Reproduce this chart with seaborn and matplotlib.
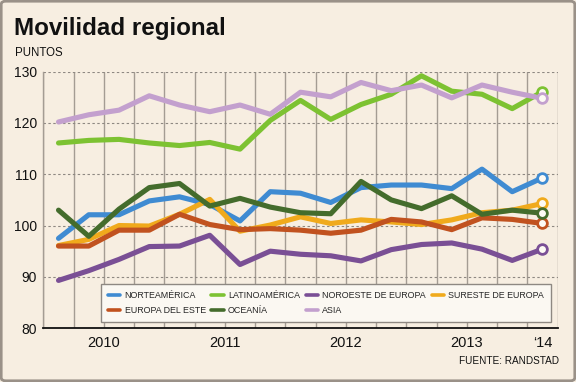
import numpy as np
import pandas as pd
import matplotlib
matplotlib.use("Agg")
import matplotlib.pyplot as plt
from matplotlib.lines import Line2D
from matplotlib.patches import FancyBboxPatch
import matplotlib.transforms as mtransforms
import seaborn as sns

# ---------------- data ----------------
quarters = ["2010T1", "2010T2", "2010T3", "2010T4",
            "2011T1", "2011T2", "2011T3", "2011T4",
            "2012T1", "2012T2", "2012T3", "2012T4",
            "2013T1", "2013T2", "2013T3", "2013T4",
            "2014T1"]
regions = ["NORTEAMÉRICA", "LATINOAMÉRICA", "NOROESTE DE EUROPA",
           "SURESTE DE EUROPA", "EUROPA DEL ESTE", "OCEANÍA", "ASIA"]
norteamerica = [97.5, 102.1, 102.1, 104.8, 105.6, 104.1, 100.9, 106.6, 106.3,
                104.5, 107.4, 107.9, 107.9, 107.2, 111.0, 106.6, 109.3]
latinoamerica = [116.1, 116.6, 116.8, 116.1, 115.6, 116.2, 114.9, 120.5, 124.4,
                 120.7, 123.6, 125.6, 129.2, 126.2, 125.6, 122.8, 126.1]
noroeste = [89.3, 91.2, 93.4, 95.9, 96.0, 98.1, 92.4, 95.0, 94.4,
            94.1, 93.1, 95.3, 96.3, 96.6, 95.4, 93.2, 95.4]
sureste = [96.1, 97.3, 100.0, 99.9, 102.2, 105.1, 98.9, 100.1, 101.7,
           100.4, 101.1, 100.7, 100.2, 101.1, 102.5, 103.0, 104.3]
europa_este = [96.0, 96.0, 99.1, 99.1, 102.2, 100.2, 99.2, 99.4, 99.1,
               98.5, 99.1, 101.2, 100.7, 99.2, 101.5, 101.2, 100.4]
oceania = [103.0, 97.9, 103.2, 107.4, 108.2, 103.8, 105.3, 103.6, 102.5,
           102.3, 108.6, 105.0, 103.3, 105.8, 102.2, 103.0, 102.4]
asia = [120.2, 121.6, 122.5, 125.3, 123.5, 122.2, 123.5, 121.7, 126.0,
        125.1, 127.9, 126.3, 127.4, 124.9, 127.4, 126.0, 124.8]
year_labels = ["2010", "2011", "2012", "2013", "\u201814"]
y_ticks = [80, 90, 100, 110, 120, 130]

series = [norteamerica, latinoamerica, noroeste, sureste, europa_este, oceania, asia]
colors = ["#3f8bd2", "#7dc232", "#7a4f95", "#f0aa1c", "#c1521f", "#446c2c", "#c3a0ce"]
palette = dict(zip(regions, colors))

rows = []
for reg, vals in zip(regions, series):
    for i, (q, v) in enumerate(zip(quarters, vals)):
        rows.append({"region": reg, "idx": i, "quarter": q, "value": v})
df = pd.DataFrame(rows)

# ---------------- style ----------------
BG = "#f7eee1"
sns.set_theme(style="white")
plt.rcParams["font.family"] = ["Liberation Sans", "DejaVu Sans"]
plt.rcParams["figure.facecolor"] = BG
plt.rcParams["axes.facecolor"] = BG

fig = plt.figure(figsize=(5.76, 3.82), dpi=100)
ax = fig.add_axes([43.4 / 576, 1 - 328.1 / 382, (557.6 - 43.4) / 576, (328.1 - 71.7) / 382])
ax.set_facecolor(BG)

sns.lineplot(data=df, x="idx", y="value", hue="region", hue_order=regions,
             palette=palette, linewidth=3.7, legend=False, ax=ax,
             solid_capstyle="round", solid_joinstyle="round", zorder=3)

# end markers (last quarter)
last = df[df["idx"] == len(quarters) - 1]
for reg in regions:
    r = last[last["region"] == reg]
    ax.plot(r["idx"], r["value"], marker="o", markersize=7, markeredgewidth=2.0,
            markeredgecolor=palette[reg], markerfacecolor="#fdfaf4",
            linestyle="none", zorder=4, clip_on=False)

n = len(quarters)
ax.set_xlim(-0.5, n - 0.5)
ax.set_ylim(80, 130)

# grid
GRID = "#a49c93"
ax.set_yticks(y_ticks)
ax.set_yticklabels([str(t) for t in y_ticks])
ax.yaxis.grid(True, linestyle=(0, (2.2, 2.2)), color="#8e8882", linewidth=0.8)
ax.set_xticks(np.arange(-0.5, n, 1.0), minor=True)
ax.set_xticks([3.5, 7.5, 11.5, 15.5])
ax.set_xticklabels([""] * 4)
ax.xaxis.grid(True, which="both", color=GRID, linewidth=1.0, linestyle="-")
ax.set_axisbelow(True)
ax.tick_params(axis="x", which="major", length=14, width=1.0, color=GRID, direction="out")
ax.tick_params(axis="x", which="minor", length=0)
ax.tick_params(axis="y", which="major", length=3, width=0.8, color="#8e8882",
               labelsize=10, pad=1.5, labelcolor="#111111")
ax.set_xlabel("")
ax.set_ylabel("")

for s in ["top", "right"]:
    ax.spines[s].set_visible(False)
ax.spines["left"].set_color(GRID)
ax.spines["left"].set_linewidth(1.0)
ax.spines["bottom"].set_color("#111111")
ax.spines["bottom"].set_linewidth(1.3)
ax.spines["bottom"].set_zorder(5)

# year labels
trans = mtransforms.blended_transform_factory(ax.transData, ax.transAxes)
year_pos = [1.5, 5.5, 9.5, 13.5, 16.0]
for xp, lab in zip(year_pos, year_labels):
    ax.text(xp, -0.057, lab, transform=trans, ha="center", va="center",
            fontsize=10.5, color="#111111")

# legend
handles = [Line2D([], [], color=palette[r], linewidth=2.6, solid_capstyle="round") for r in regions]
order = [0, 4, 1, 5, 2, 6, 3]
leg = ax.legend([handles[i] for i in order], [regions[i] for i in order],
                ncol=4, loc="lower left", bbox_to_anchor=(0.112, 0.024, 0.875, 0.144),
                mode="expand", frameon=True, fancybox=False, framealpha=1,
                facecolor="#fbf8f2", edgecolor="#8e8882",
                prop={"size": 6.4},
                handlelength=1.4, handletextpad=0.5, labelspacing=0.75,
                columnspacing=0.8, borderpad=0.75, borderaxespad=0)
leg.get_frame().set_linewidth(1.0)
leg.set_zorder(6)

# titles
fig.text(14 / 576, 1 - 35 / 382, "Movilidad regional", ha="left", va="baseline",
         fontsize=17.4, fontweight="bold", color="#111111")
fig.text(14.5 / 576, 1 - 56.5 / 382, "PUNTOS", ha="left", va="baseline",
         fontsize=8.3, color="#111111")
fig.text(559 / 576, 1 - 364.5 / 382, "FUENTE: RANDSTAD", ha="right", va="baseline",
         fontsize=7.2, color="#111111")

# outer frame
frame = FancyBboxPatch((1.2 / 576, 1.2 / 382), 1 - 2.4 / 576, 1 - 2.4 / 382,
                       boxstyle="round,pad=0,rounding_size=0.008",
                       transform=fig.transFigure, fill=False,
                       edgecolor="#9a9188", linewidth=2.0)
fig.patches.append(frame)

fig.savefig("out.png", dpi=100, facecolor=BG)
